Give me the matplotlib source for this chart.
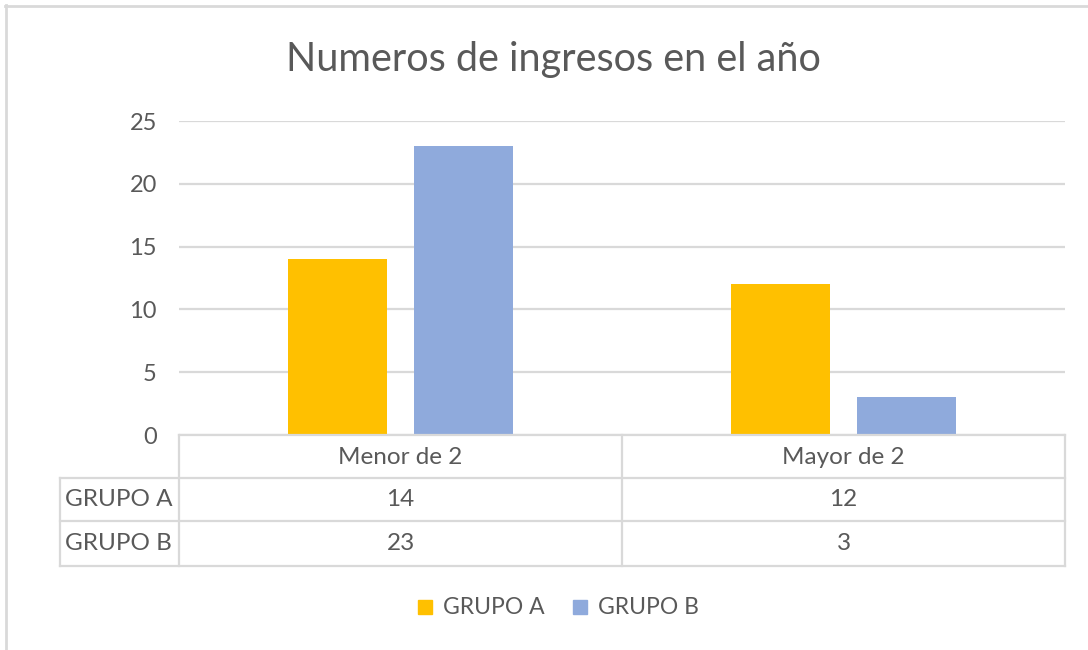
import matplotlib
matplotlib.use("Agg")
import matplotlib.pyplot as plt
from matplotlib.lines import Line2D
from matplotlib.patches import Rectangle
import matplotlib.transforms as mtransforms
import numpy as np

categories = ["Menor de 2", "Mayor de 2"]
series_names = ["GRUPO A", "GRUPO B"]
grupo_a = [14, 12]
grupo_b = [23, 3]
yticks = [0, 5, 10, 15, 20, 25]
title = "Numeros de ingresos en el año"

colors = ["#FFC000", "#8FAADC"]
text_color = "#595959"
grid_color = "#D9D9D9"
FONT = "Lato"

W, H = 1088, 650
fig = plt.figure(figsize=(W / 100, H / 100), dpi=100)
fig.patch.set_facecolor("white")

def fx(x):
    return x / W

def fy(y):
    return 1 - y / H

# plot area in pixels
L, R, T, B = 179, 1065, 121, 435
ax = fig.add_axes([fx(L), fy(B), fx(R) - fx(L), fy(T) - fy(B)])
ax.set_xlim(-0.5, len(categories) - 0.5)
ax.set_ylim(0, 25)

x = np.arange(len(categories))
bw = 0.2235
off = 0.142
ax.bar(x - off, grupo_a, width=bw, color=colors[0], zorder=3, label=series_names[0])
ax.bar(x + off, grupo_b, width=bw, color=colors[1], zorder=3, label=series_names[1])

ax.set_yticks(yticks)
ax.set_yticklabels([str(t) for t in yticks])
ax.set_xticks([])
ax.tick_params(axis="y", length=0, pad=16, labelsize=17, labelcolor=text_color)
for lab in ax.get_yticklabels():
    lab.set_fontfamily(FONT)
ax.grid(axis="y", color=grid_color, linewidth=1.6, zorder=0)
for s in ax.spines.values():
    s.set_visible(False)

# title
fig.text(fx(553), fy(59), title, ha="center", va="center", fontsize=28.5,
         color=text_color, family=FONT)

# table lines (pixel coordinates)
lc = "#D9D9D9"
lw = 1.6
def hline(y, x0, x1):
    fig.add_artist(Line2D([fx(x0), fx(x1)], [fy(y), fy(y)], color=lc, lw=lw))
def vline(xp, y0, y1):
    fig.add_artist(Line2D([fx(xp), fx(xp)], [fy(y0), fy(y1)], color=lc, lw=lw))

hline(435, L, R)
hline(478, 60, R)
hline(521, 60, R)
hline(566, 60, R)
vline(60, 478, 566)
vline(L, 435, 566)
vline(622, 435, 566)
vline(R, 435, 566)

# table text
row_y = [500, 544]
head_y = 458
blend = mtransforms.blended_transform_factory(ax.transData, fig.transFigure)
for i, c in enumerate(categories):
    fig.text(i, fy(head_y), c, transform=blend, ha="center", va="center",
             fontsize=17.5, color=text_color, family=FONT)
for r, (name, vals) in enumerate(zip(series_names, [grupo_a, grupo_b])):
    fig.text(fx(65), fy(row_y[r]), name, ha="left", va="center",
             fontsize=17.5, color=text_color, family=FONT)
    for i, v in enumerate(vals):
        fig.text(i, fy(row_y[r]), str(v), transform=blend, ha="center",
                 va="center", fontsize=17.5, color=text_color, family=FONT)

# legend
for k, (name, col) in enumerate(zip(series_names, colors)):
    x0 = [418, 573][k]
    fig.add_artist(Rectangle((fx(x0), fy(614)), fx(14), 14 / H, color=col,
                             transform=fig.transFigure))
    fig.text(fx(x0 + 25), fy(607), name, ha="left", va="center", fontsize=16.5,
             color=text_color, family=FONT)

# outer border (top & left)
fig.add_artist(Line2D([fx(5), 1], [fy(6), fy(6)], color="#D9D9D9", lw=2))
fig.add_artist(Line2D([fx(6), fx(6)], [fy(5), 0], color="#D9D9D9", lw=2))

fig.savefig("out.png", dpi=100)
